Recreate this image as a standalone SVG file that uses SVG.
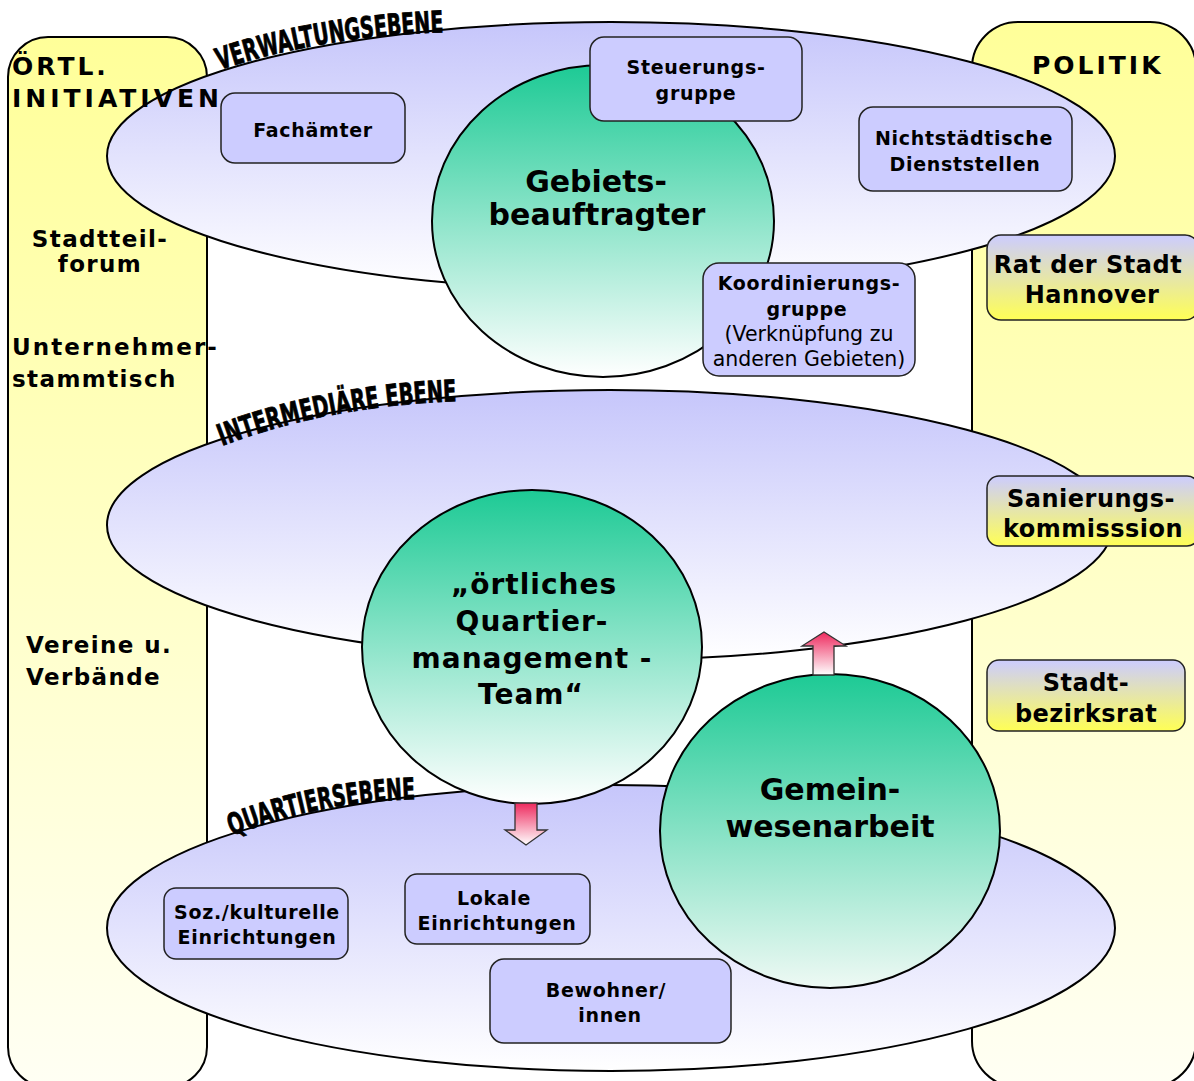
<svg xmlns="http://www.w3.org/2000/svg" width="1194" height="1081" viewBox="0 0 1194 1081">
<defs>
<linearGradient id="gPanel" x1="0" y1="0" x2="0" y2="1"><stop offset="0" stop-color="#ffff99"/><stop offset="1" stop-color="#fffff4"/></linearGradient>
<linearGradient id="gEll" x1="0" y1="0" x2="0" y2="1"><stop offset="0" stop-color="#c6c6fb"/><stop offset="1" stop-color="#ffffff"/></linearGradient>
<linearGradient id="gCirc" x1="0" y1="0" x2="0" y2="1"><stop offset="0" stop-color="#1dca95"/><stop offset="1" stop-color="#ffffff"/></linearGradient>
<linearGradient id="gCirc2" x1="0" y1="0" x2="0" y2="1"><stop offset="0" stop-color="#1dca95"/><stop offset="1" stop-color="#eef9f4"/></linearGradient>
<linearGradient id="gPol" x1="0" y1="0" x2="0" y2="1"><stop offset="0" stop-color="#ccccff"/><stop offset="1" stop-color="#ffff55"/></linearGradient>
<linearGradient id="gArr" x1="0" y1="0" x2="0" y2="1"><stop offset="0" stop-color="#ee2a5e"/><stop offset="1" stop-color="#ffffff"/></linearGradient>
<path id="p1" d="M 220 70 Q 320 36 452 32"/>
<path id="p2" d="M 222 446 Q 330 405 464 401"/>
<path id="p3" d="M 232 836 Q 320 801 422 799"/>
</defs>
<style>
.panel{fill:url(#gPanel);stroke:#000;stroke-width:2}
.ell{fill:url(#gEll);stroke:#000;stroke-width:2}
.circ{stroke:#000;stroke-width:2}
.box{fill:#ccccff;stroke:#222;stroke-width:1.5}
.pbox{fill:url(#gPol);stroke:#222;stroke-width:1.5}
text{font-family:"DejaVu Sans","Liberation Sans",sans-serif;fill:#000}
.b{font-weight:bold;font-size:19px;text-anchor:middle;letter-spacing:0.7px}
.r{font-size:20.5px;text-anchor:middle}
.pt{font-weight:bold;font-size:23px;letter-spacing:1.4px}
.ph{font-weight:bold;font-size:25px;letter-spacing:3px}
.pb{font-weight:bold;font-size:24px;text-anchor:middle;letter-spacing:0.5px}
.c{font-weight:bold;font-size:28px;text-anchor:middle;letter-spacing:1px}
.c2{font-weight:bold;font-size:30px;text-anchor:middle}
.lvl{font-family:"DejaVu Sans Condensed","DejaVu Sans",sans-serif;font-weight:bold;font-size:30px;stroke:#000;stroke-width:0.8}
.arr{fill:url(#gArr);stroke:#333;stroke-width:1.3}
</style>

<g id="panel-left"><rect class="panel" x="8" y="37" width="199" height="1050" rx="40"/></g>
<g id="panel-right"><rect class="panel" x="972" y="22" width="224" height="1065" rx="46"/></g>

<g id="ebene-verwaltung"><ellipse class="ell" cx="611" cy="156" rx="504" ry="134"/></g>
<g id="ebene-intermediaer"><ellipse class="ell" cx="610" cy="525" rx="503" ry="135"/></g>
<g id="ebene-quartier"><ellipse class="ell" cx="611" cy="928" rx="504" ry="143"/></g>

<g id="initiativen-title"><text class="ph" x="12" y="75">ÖRTL.</text><text class="ph" x="12" y="107" style="letter-spacing:4px">INITIATIVEN</text></g>
<g id="stadtteilforum"><text class="pt" x="100" y="247" text-anchor="middle">Stadtteil-</text><text class="pt" x="100" y="272" text-anchor="middle">forum</text></g>
<g id="unternehmerstammtisch"><text class="pt" x="12" y="355" style="letter-spacing:2.1px">Unternehmer-</text><text class="pt" x="12" y="387">stammtisch</text></g>
<g id="vereine"><text class="pt" x="26" y="653">Vereine u.</text><text class="pt" x="26" y="685">Verbände</text></g>
<g id="politik-title"><text class="ph" x="1032" y="74">POLITIK</text></g>

<g id="gebietsbeauftragter"><ellipse class="circ" fill="url(#gCirc)" cx="603" cy="221" rx="171" ry="156"/>
<text class="c2" x="596" y="192">Gebiets-</text><text class="c2" x="597" y="225">beauftragter</text></g>

<g id="quartiermanagement"><ellipse class="circ" fill="url(#gCirc)" cx="532" cy="647" rx="170" ry="157"/>
<text class="c" x="534" y="594">„örtliches</text><text class="c" x="532" y="631">Quartier-</text><text class="c" x="532" y="668">management -</text><text class="c" x="531" y="704">Team“</text></g>

<g id="gemeinwesenarbeit"><ellipse class="circ" fill="url(#gCirc2)" cx="830" cy="831" rx="170" ry="157"/>
<text class="c2" x="830" y="800">Gemein-</text><text class="c2" x="830" y="837">wesenarbeit</text></g>

<g id="fachaemter"><rect class="box" x="221" y="93" width="184" height="70" rx="14"/><text class="b" x="313" y="137">Fachämter</text></g>
<g id="steuerungsgruppe"><rect class="box" x="590" y="37" width="212" height="84" rx="14"/><text class="b" x="696" y="74">Steuerungs-</text><text class="b" x="696" y="100">gruppe</text></g>
<g id="nichtstaedtische"><rect class="box" x="859" y="107" width="213" height="84" rx="14"/><text class="b" x="964" y="145">Nichtstädtische</text><text class="b" x="965" y="171">Dienststellen</text></g>
<g id="koordinierungsgruppe"><rect class="box" x="703" y="263" width="212" height="113" rx="16"/><text class="b" x="809" y="290">Koordinierungs-</text><text class="b" x="807" y="316">gruppe</text><text class="r" x="809" y="341">(Verknüpfung zu</text><text class="r" x="809" y="366">anderen Gebieten)</text></g>

<g id="rat-der-stadt"><rect class="pbox" x="987" y="235" width="212" height="85" rx="14"/><text class="pb" x="1088" y="273">Rat der Stadt</text><text class="pb" x="1092" y="303">Hannover</text></g>
<g id="sanierungskommission"><rect class="pbox" x="987" y="476" width="212" height="70" rx="12"/><text class="pb" x="1091" y="507">Sanierungs-</text><text class="pb" x="1093" y="537">kommisssion</text></g>
<g id="stadtbezirksrat"><rect class="pbox" x="987" y="660" width="198" height="71" rx="12"/><text class="pb" x="1086" y="691">Stadt-</text><text class="pb" x="1086" y="722">bezirksrat</text></g>

<g id="soz-kulturelle"><rect class="box" x="164" y="888" width="184" height="71" rx="12"/><text class="b" x="257" y="919">Soz./kulturelle</text><text class="b" x="257" y="944">Einrichtungen</text></g>
<g id="lokale"><rect class="box" x="405" y="874" width="185" height="70" rx="12"/><text class="b" x="494" y="905">Lokale</text><text class="b" x="497" y="930">Einrichtungen</text></g>
<g id="bewohner"><rect class="box" x="490" y="959" width="241" height="84" rx="14"/><text class="b" x="606" y="997">Bewohner/</text><text class="b" x="610" y="1022">innen</text></g>

<g id="connectors">
<path class="arr" d="M 515 803 L 537 803 L 537 830 L 547 830 L 526 845 L 505 830 L 515 830 Z"/>
<path class="arr" d="M 813 675 L 834 675 L 834 646 L 846 646 L 824 632 L 802 646 L 813 646 Z"/>
</g>

<g id="level-labels">
<text class="lvl"><textPath href="#p1" textLength="228" lengthAdjust="spacingAndGlyphs">VERWALTUNGSEBENE</textPath></text>
<text class="lvl"><textPath href="#p2" textLength="240" lengthAdjust="spacingAndGlyphs">INTERMEDIÄRE EBENE</textPath></text>
<text class="lvl"><textPath href="#p3" textLength="188" lengthAdjust="spacingAndGlyphs">QUARTIERSEBENE</textPath></text>
</g>
</svg>
